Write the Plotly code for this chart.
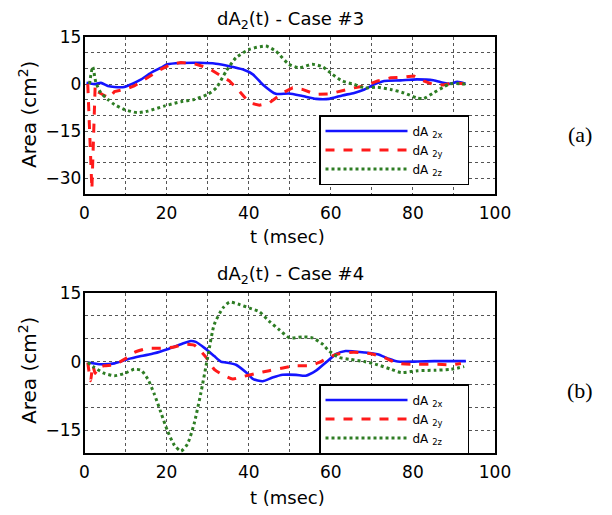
import plotly.graph_objects as go

# ---------------- Case #3 data (t in msec, area in cm^2) ----------------
t3_x = [0.5, 2.4, 4.0, 5.7, 7.3, 9.7, 11.3, 13.8, 16.2, 18.6, 20.2, 23.5, 28.0, 32.0,
        35.3, 38.5, 41.0, 43.4, 46.6, 49.8, 53.1, 56.4, 59.6, 62.8, 65.7, 68.2, 70.6,
        73.0, 77.0, 81.0, 85.0, 87.4, 89.0, 90.8, 92.8]
a3_x = [0.4, 0.0, 0.4, -0.6, -0.9, -0.9, -0.1, 1.5, 3.6, 5.2, 6.3, 6.7, 6.8, 6.5,
        5.7, 4.7, 3.1, -0.1, -3.1, -3.0, -3.8, -4.7, -4.7, -3.6, -2.8, -1.7, -0.1,
        1.0, 1.2, 1.5, 1.2, 0.4, 0.1, 0.7, 0.1]

t3_y = [0.8, 1.8, 2.6, 3.2, 4.5, 6.0, 7.3, 9.7, 12.1, 15.4, 18.6, 21.0, 23.5, 26.7,
        30.0, 32.4, 35.3, 37.7, 40.2, 42.6, 45.0, 48.3, 50.7, 53.1, 56.4, 59.6, 62.8,
        65.7, 68.2, 71.4, 74.6, 77.8, 80.2, 82.6, 85.0, 87.4, 89.8, 92.4]
a3_y = [0.0, -33.5, -0.5, -2.4, -3.4, -4.4, -2.4, -1.7, -0.6, 2.0, 4.7, 6.3, 6.9, 6.5,
        5.2, 3.3, 1.0, -2.2, -6.0, -6.7, -6.0, -2.8, -1.2, -1.7, -3.3, -3.1, -2.0,
        -1.2, -0.6, 1.0, 2.0, 2.2, 2.6, 1.0, -0.1, -0.3, 0.4, 0.1]

t3_z = [1.2, 2.0, 2.8, 4.0, 5.7, 7.3, 9.7, 12.9, 15.4, 19.4, 23.5, 26.7, 30.0, 32.1,
        34.5, 36.9, 40.2, 44.2, 46.6, 49.8, 52.3, 55.5, 58.0, 60.4, 62.8, 65.7, 68.2,
        71.4, 74.6, 77.8, 81.0, 82.6, 85.0, 87.4, 89.0, 92.8]
a3_z = [0.0, 5.5, 0.4, -2.8, -4.9, -6.5, -8.1, -9.1, -8.6, -7.0, -5.6, -4.9, -3.3, -1.2,
        4.1, 8.4, 11.1, 12.1, 10.5, 6.3, 5.2, 6.3, 5.5, 3.1, 1.0, -0.1, -1.2,
        -1.0, -1.7, -2.8, -4.4, -4.6, -2.8, -1.0, 0.1, 0.0]

# ---------------- Case #4 data ----------------
t4_x = [0.8, 4.0, 7.3, 10.5, 13.8, 17.0, 20.2, 23.5, 25.9, 27.1, 29.2, 31.6, 33.2, 34.5,
        36.9, 39.4, 41.0, 43.4, 45.8, 48.3, 51.5, 53.9, 56.4, 58.8, 61.2, 63.6, 65.7,
        68.2, 71.4, 73.9, 76.3, 81.2, 85.2, 89.3, 92.9]
a4_x = [-0.2, -0.6, -0.4, 0.5, 1.2, 1.8, 2.7, 3.8, 4.5, 4.3, 3.0, 1.2, 0.0, -0.2,
        -0.7, -2.4, -3.8, -4.3, -3.5, -2.9, -2.9, -3.1, -2.0, -0.2, 1.6, 2.3, 2.2,
        2.0, 1.6, 0.7, 0.0, 0.0, 0.1, 0.1, 0.1]

t4_y = [0.8, 1.5, 2.0, 2.6, 3.2, 4.9, 7.3, 9.7, 12.1, 15.4, 18.6, 21.9, 24.3, 26.7,
        28.3, 30.0, 31.6, 33.7, 36.1, 38.5, 41.8, 45.0, 48.3, 51.5, 54.7, 57.2, 59.6,
        62.0, 64.5, 67.0, 69.8, 73.0, 76.3, 81.2, 86.0, 89.3, 91.7]
a4_y = [-0.2, -4.2, -0.8, -2.6, -1.3, -0.9, -0.7, 0.5, 2.0, 2.9, 2.9, 3.2, 3.8, 3.6,
        2.3, 0.5, -1.7, -2.9, -3.8, -3.3, -2.6, -2.0, -1.4, -0.9, -0.9, -0.2, 1.0,
        1.7, 2.0, 2.0, 1.7, 0.9, -0.4, -0.6, -0.6, -0.7, -0.4]

t4_z = [0.8, 2.4, 4.9, 7.3, 9.7, 12.1, 13.8, 15.4, 17.0, 18.6, 20.2, 21.9, 23.5, 25.1,
        26.7, 28.3, 30.0, 31.6, 33.7, 35.3, 37.7, 40.2, 42.6, 45.0, 47.4, 49.9, 53.1,
        55.5, 58.0, 59.6, 62.0, 64.5, 68.2, 71.4, 74.7, 77.1, 81.2, 85.2, 89.3, 92.5]
a4_z = [-0.2, -1.3, -2.6, -3.1, -2.6, -1.7, -1.9, -3.8, -7.1, -11.1, -15.1, -18.3, -19.6, -18.0,
        -13.6, -7.1, 0.9, 8.1, 11.7, 13.0, 12.5, 11.7, 10.9, 8.8, 7.0, 5.2, 5.4,
        5.2, 3.8, 2.3, 0.9, 0.5, 0.0, -0.7, -1.7, -2.4, -2.0, -1.9, -1.7, -1.1]

series_names = ["dA <sub>2x</sub>", "dA <sub>2y</sub>", "dA <sub>2z</sub>"]
titles = ["dA<sub>2</sub>(t) - Case #3", "dA<sub>2</sub>(t) - Case #4"]
panel_labels = ["(a)", "(b)"]

# the page body adds an 8px offset; the figure is sized to fill the rest of the window
OFF = 8
W, H = 612 - OFF, 515 - OFF
def px(x): return (x - OFF) / W
def py(y): return 1 - (y - OFF) / H

BLUE, RED, GREEN = "#1414ff", "#ff1a1a", "#2e7d24"
FONT = "DejaVu Sans"
PAD = "&nbsp;" * 5   # right padding inside the legend box

fig = go.Figure()

panels = [
    (t3_x, a3_x, t3_y, a3_y, t3_z, a3_z, "x", "y", "legend"),
    (t4_x, a4_x, t4_y, a4_y, t4_z, a4_z, "x2", "y2", "legend2"),
]
for i, (tx, ax_, ty, ay, tz, az, xa, ya, lg) in enumerate(panels):
    fig.add_trace(go.Scatter(x=tx, y=ax_, mode="lines", name=series_names[0] + PAD,
                             line=dict(color=BLUE, width=2.6, shape="spline", smoothing=0.6),
                             xaxis=xa, yaxis=ya, legend=lg))
    fig.add_trace(go.Scatter(x=ty, y=ay, mode="lines", name=series_names[1] + PAD,
                             line=dict(color=RED, width=3, dash="dash",
                                       shape="linear" if i == 0 else "spline", smoothing=0.6),
                             xaxis=xa, yaxis=ya, legend=lg))
    fig.add_trace(go.Scatter(x=tz, y=az, mode="lines", name=series_names[2] + PAD,
                             line=dict(color=GREEN, width=3, dash="dot", shape="spline", smoothing=0.6),
                             xaxis=xa, yaxis=ya, legend=lg))

grid = dict(showgrid=True, gridcolor="#555555", griddash="dot", gridwidth=1)
common_x = dict(range=[0, 100], dtick=20, tick0=0, **grid,
                minor=dict(dtick=10, showgrid=True, gridcolor="#555555", griddash="dot", gridwidth=1),
                showline=True, mirror=True, linecolor="black", linewidth=1.6,
                zeroline=False, ticks="", ticklabelstandoff=3, automargin=False,
                tickfont=dict(family=FONT, size=17, color="black"))
common_y = dict(dtick=15, tick0=0, **grid,
                minor=dict(dtick=5, showgrid=True, gridcolor="#555555", griddash="dot", gridwidth=1),
                showline=True, mirror=True, linecolor="black", linewidth=1.6,
                zeroline=False, ticks="", ticklabelstandoff=-2, automargin=False,
                tickfont=dict(family=FONT, size=17, color="black"))

legend_common = dict(xanchor="left", yanchor="middle",
                     bordercolor="black", borderwidth=1.5, bgcolor="white",
                     font=dict(family=FONT, size=12, color="black"), itemwidth=82,
                     tracegroupgap=0)

xd = [px(84.5), px(495)]
fig.update_layout(
    width=W, height=H, margin=dict(l=0, r=0, t=0, b=0, pad=0, autoexpand=False),
    paper_bgcolor="white", plot_bgcolor="white",
    xaxis=dict(domain=xd, anchor="y", **common_x),
    yaxis=dict(domain=[py(194), py(37)], range=[-35, 15], anchor="x", **common_y),
    xaxis2=dict(domain=xd, anchor="y2", **common_x),
    yaxis2=dict(domain=[py(453), py(293)], range=[-20, 15], anchor="x2", **common_y),
    legend=dict(x=px(319), y=py(150), **legend_common),
    legend2=dict(x=px(319), y=py(419), **legend_common),
    showlegend=True,
)

annos = []
for title, ty in zip(titles, [20, 275]):
    annos.append(dict(text=title, x=px(290), y=py(ty), xref="paper", yref="paper",
                      showarrow=False, xanchor="center", yanchor="middle",
                      font=dict(family=FONT, size=18, color="black")))
for ty in [236, 497]:
    annos.append(dict(text="t (msec)", x=px(287), y=py(ty), xref="paper", yref="paper",
                      showarrow=False, xanchor="center", yanchor="middle",
                      font=dict(family=FONT, size=18, color="black")))
for ty in [115, 371]:
    annos.append(dict(text="Area (cm<sup>2</sup>)", x=px(28), y=py(ty), xref="paper", yref="paper",
                      showarrow=False, xanchor="center", yanchor="middle", textangle=-90,
                      font=dict(family=FONT, size=20, color="black")))
for lbl, ty in zip(panel_labels, [135, 390]):
    annos.append(dict(text=lbl, x=px(580), y=py(ty), xref="paper", yref="paper",
                      showarrow=False, xanchor="center", yanchor="middle",
                      font=dict(family="Liberation Serif", size=22, color="black")))
fig.update_layout(annotations=annos)

fig.write_html("out.html")
